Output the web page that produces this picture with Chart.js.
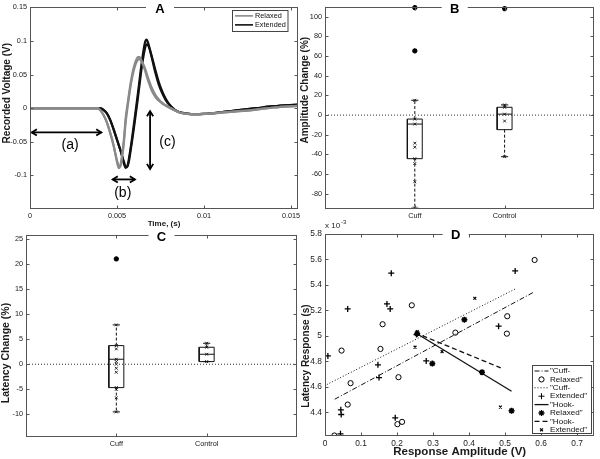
<!DOCTYPE html>
<html><head><meta charset="utf-8">
<script src="https://cdn.jsdelivr.net/npm/chart.js@4.4.1/dist/chart.umd.min.js"></script>
<style>
html,body{margin:0;padding:0;background:#fff;}
body{width:600px;height:459px;position:relative;overflow:hidden;}
canvas{position:absolute;left:0;top:0;}
</style></head>
<body>
<canvas id="cA" width="600" height="459"></canvas>
<canvas id="cB" width="600" height="459"></canvas>
<canvas id="cC" width="600" height="459"></canvas>
<canvas id="cD" width="600" height="459"></canvas>
<script>
// ================= DATA =================
// Panel A : recorded waveforms
const timeA = [0, 0.0039, 0.0040, 0.0041, 0.0042, 0.0044, 0.0046, 0.0048, 0.0050, 0.0051, 0.0052, 0.0053, 0.0054, 0.0055, 0.0056, 0.0058, 0.0060, 0.0062, 0.0063, 0.0064, 0.0066, 0.0067, 0.0068, 0.0070, 0.0072, 0.0074, 0.0076, 0.0078, 0.0080, 0.0083, 0.0086, 0.0090, 0.0095, 0.0100, 0.0110, 0.0120, 0.0130, 0.0140, 0.0154];
const relaxedTrace1 = [0, 0, -0.002, -0.005, -0.009, -0.020, -0.036, -0.055, -0.080, -0.089, -0.084, -0.068, -0.045, -0.014, 0.005, 0.040, 0.064, 0.076, 0.076, 0.071, 0.057, 0.048, 0.040, 0.026, 0.017, 0.011, 0.007, 0.004, 0.001, -0.003, -0.0065, -0.0085, -0.009, -0.0085, -0.0065, -0.0045, -0.002, 0.001, 0.0035];
const relaxedTrace2 = [0, 0, -0.002, -0.005, -0.009, -0.020, -0.036, -0.055, -0.078, -0.086, -0.087, -0.072, -0.050, -0.020, 0.000, 0.036, 0.060, 0.072, 0.073, 0.070, 0.060, 0.052, 0.044, 0.030, 0.020, 0.013, 0.008, 0.004, 0.001, -0.003, -0.0065, -0.0085, -0.009, -0.0085, -0.0065, -0.0045, -0.002, 0.001, 0.0035];
const extendedTrace1 = [0, 0, 0, -0.0005, -0.002, -0.007, -0.017, -0.031, -0.047, -0.055, -0.063, -0.072, -0.083, -0.089, -0.086, -0.056, -0.018, 0.022, 0.043, 0.064, 0.097, 0.102, 0.096, 0.075, 0.053, 0.035, 0.022, 0.012, 0.005, -0.002, -0.006, -0.008, -0.009, -0.0085, -0.006, -0.003, 0.000, 0.003, 0.0055];
const extendedTrace2 = [0, 0, 0, -0.0005, -0.002, -0.007, -0.017, -0.031, -0.047, -0.055, -0.063, -0.072, -0.080, -0.087, -0.087, -0.060, -0.024, 0.015, 0.036, 0.057, 0.088, 0.095, 0.093, 0.077, 0.057, 0.039, 0.025, 0.014, 0.006, -0.002, -0.006, -0.008, -0.009, -0.0085, -0.006, -0.003, 0.000, 0.003, 0.0055];
const seriesNamesA = ['Relaxed', 'Extended'];
const timeTicks = [0, 0.005, 0.01, 0.015];
const voltageTicks = [-0.1, -0.05, 0, 0.05, 0.1, 0.15];
// annotation arrows of panel A (data space: [t1, v1, t2, v2]) and labels
const arrowLabels = ['(a)', '(b)', '(c)'];
const arrowSpans = [[0.0001, -0.036, 0.0041, -0.036], [0.00475, -0.106, 0.00603, -0.106], [0.0069, -0.0045, 0.0069, -0.0905]];
const arrowLabelAt = [[0.0023, -0.055], [0.00533, -0.126], [0.0079, -0.05]];

// Panels B & C : box plots
const groups = ['Cuff', 'Control'];
const ampQ1 = [-44.3, -14.8];
const ampMedian = [-9.1, 1.0];
const ampQ3 = [-4.0, 8.0];
const ampLowWhisker = [-94.6, -42.3];
const ampHighWhisker = [15.1, 10.4];
const ampPointsCuff = [15.1, -4.0, -9.1, -28.5, -32.6, -44.3, -49.3, -67.8, -94.6];
const ampPointsControl = [10.4, 8.0, 1.0, -6.0, -42.3];
const ampOutliersCuff = [109.4, 65.4];
const ampOutliersControl = [108.4];
const ampTicks = [-80, -60, -40, -20, 0, 20, 40, 60, 80, 100];

const latQ1 = [-4.67, 0.53];
const latMedian = [1.0, 2.0];
const latQ3 = [3.73, 3.4];
const latLowWhisker = [-9.53, 0.53];
const latHighWhisker = [7.87, 4.2];
const latPointsCuff = [7.87, 3.73, 3.07, 1.0, 0.53, 0.0, -0.8, -1.6, -4.67, -5.0, -6.7, -9.53];
const latPointsControl = [4.2, 3.4, 2.0, 0.53];
const latOutliersCuff = [21.07];
const latOutliersControl = [];
const latTicks = [-10, -5, 0, 5, 10, 15, 20, 25];

// Panel D : latency (x10^-3 s) vs amplitude (V)
const cuffRelaxedAmp = [0.582, 0.241, 0.160, 0.362, 0.506, 0.505, 0.046, 0.154, 0.071, 0.204, 0.063, 0.201, 0.214, 0.026];
const cuffRelaxedLat = [5.596, 5.240, 5.091, 5.025, 5.154, 5.017, 4.884, 4.897, 4.628, 4.675, 4.460, 4.306, 4.324, 4.217];
const cuffExtendedAmp = [0.184, 0.063, 0.172, 0.181, 0.528, 0.482, 0.008, 0.147, 0.150, 0.044, 0.045, 0.195, 0.043, 0.254, 0.281];
const cuffExtendedLat = [5.492, 5.211, 5.251, 5.211, 5.510, 5.076, 4.842, 4.772, 4.672, 4.419, 4.382, 4.356, 4.230, 5.010, 4.803];
const hookRelaxedAmp = [0.387, 0.298, 0.436, 0.518, 0.256];
const hookRelaxedLat = [5.127, 4.782, 4.714, 4.411, 5.017];
const hookExtendedAmp = [0.416, 0.250, 0.256, 0.325, 0.487];
const hookExtendedLat = [5.295, 4.911, 5.033, 4.876, 4.440];
const fitCuffRelaxedAmp = [0.027, 0.579];
const fitCuffRelaxedLat = [4.502, 5.342];
const fitCuffExtendedAmp = [0.005, 0.528];
const fitCuffExtendedLat = [4.617, 5.368];
const fitHookRelaxedAmp = [0.252, 0.518];
const fitHookRelaxedLat = [5.022, 4.565];
const fitHookExtendedAmp = [0.250, 0.488];
const fitHookExtendedLat = [5.025, 4.748];
const legendLinesD = [['"Cuff-', 'Relaxed"'], ['"Cuff-', 'Extended"'], ['"Hook-', 'Relaxed"'], ['"Hook-', 'Extended"']];
const amplitudeTicks = [0, 0.1, 0.2, 0.3, 0.4, 0.5, 0.6, 0.7];
const latencyTicks = [4.4, 4.6, 4.8, 5.0, 5.2, 5.4, 5.6, 5.8];

// ================= STYLE / HELPERS =================
const FONT = "'Liberation Sans', Arial, Helvetica, sans-serif";
Chart.defaults.font.family = FONT;
Chart.defaults.color = '#1a1a1a';
Chart.defaults.animation = false;
const FRAME = '#555';
const GRAY = '#8a8a8a';
const INK = '#111';

const fmt = v => String(parseFloat(Number(v).toPrecision(6)));
const toXY = (xs, ys) => xs.map((x, i) => ({x: x, y: ys[i]}));
const setTicks = vals => s => { s.ticks = vals.map(v => ({value: v})); };
const fixW = w => s => { s.width = w; };
const fixH = h => s => { s.height = h; };

function axis(min, max, ticks, fitFn, tickSize, title, titleSize, tickFmt) {
  return {
    type: 'linear', min: min, max: max, offset: false,
    afterBuildTicks: setTicks(ticks), afterFit: fitFn,
    grid: {display: false, drawTicks: false}, border: {display: false},
    ticks: {padding: 3, autoSkip: false, maxRotation: 0, font: {size: tickSize}, callback: tickFmt || fmt},
    title: {display: !!title, text: title || '', padding: 0, font: {size: titleSize, weight: 'bold'}}
  };
}

// frame + inward ticks + panel letter + y title
const decor = {
  id: 'decor',
  afterDraw(chart, args, o) {
    const {ctx, chartArea: a, scales} = chart;
    ctx.save();
    ctx.strokeStyle = FRAME; ctx.lineWidth = 1;
    const L = Math.round(a.left) + 0.5, T = Math.round(a.top) + 0.5, R = Math.round(a.right) - 0.5, B = Math.round(a.bottom) - 0.5;
    ctx.strokeRect(L, T, R - L, B - T);
    const tl = 3;
    ctx.beginPath();
    scales.x.ticks.forEach(t => {
      const px = Math.round(scales.x.getPixelForValue(t.value)) + 0.5;
      ctx.moveTo(px, B); ctx.lineTo(px, B - tl); ctx.moveTo(px, T); ctx.lineTo(px, T + tl);
    });
    scales.y.ticks.forEach(t => {
      const py = Math.round(scales.y.getPixelForValue(t.value)) + 0.5;
      ctx.moveTo(L, py); ctx.lineTo(L + tl, py); ctx.moveTo(R, py); ctx.lineTo(R - tl, py);
    });
    ctx.stroke();
    if (o && o.letter) {
      const cx = (a.left + a.right) / 2 + (o.dx || 0);
      ctx.fillStyle = '#fff';
      ctx.fillRect(cx - o.gap / 2, T - 3, o.gap, 6);
      ctx.fillStyle = '#000';
      ctx.font = 'bold 13px ' + FONT;
      ctx.textAlign = 'center'; ctx.textBaseline = 'middle';
      ctx.fillText(o.letter, cx, T + (o.dy || 2));
    }
    if (o && o.yTitle) {
      ctx.save();
      ctx.translate(a.left - o.yTitleDx, (a.top + a.bottom) / 2 + o.yTitleDy);
      ctx.rotate(-Math.PI / 2);
      ctx.fillStyle = '#1a1a1a';
      ctx.font = 'bold ' + o.yTitleSize + 'px ' + FONT;
      ctx.textAlign = 'center'; ctx.textBaseline = 'middle';
      ctx.fillText(o.yTitle, 0, 0);
      ctx.restore();
    }
    ctx.restore();
  }
};
Chart.register(decor);

function basePlugins(letter, gap, dx, dy, yTitle, yTitleDx, yTitleDy, yTitleSize) {
  return {legend: {display: false}, tooltip: {enabled: false},
    decor: {letter: letter, gap: gap, dx: dx, dy: dy, yTitle: yTitle, yTitleDx: yTitleDx, yTitleDy: yTitleDy, yTitleSize: yTitleSize}};
}

// ================= PANEL A =================
const legendA = {
  id: 'legendA',
  afterDraw(chart) {
    const {ctx, chartArea: a} = chart;
    const x0 = a.right - 66.5, y0 = a.top + 2.5, w = 55.5, h = 21;
    ctx.save();
    ctx.fillStyle = '#fff'; ctx.fillRect(x0, y0, w, h);
    ctx.strokeStyle = '#444'; ctx.lineWidth = 1; ctx.strokeRect(Math.round(x0) + 0.5, Math.round(y0) + 0.5, w, h);
    ctx.font = '7.3px ' + FONT; ctx.textBaseline = 'middle'; ctx.fillStyle = '#111';
    const shown = [0, 2];
    shown.forEach((di, i) => {
      const ds = chart.data.datasets[di];
      const y = y0 + 6 + i * 9;
      ctx.strokeStyle = ds.borderColor; ctx.lineWidth = 1.6;
      ctx.beginPath(); ctx.moveTo(x0 + 3.5, y); ctx.lineTo(x0 + 21.5, y); ctx.stroke();
      ctx.fillText(ds.label, x0 + 23.5, y);
    });
    ctx.restore();
  }
};
const arrowsA = {
  id: 'arrowsA',
  afterDatasetsDraw(chart) {
    const {ctx, scales: {x, y}} = chart;
    ctx.save();
    ctx.strokeStyle = '#000'; ctx.fillStyle = '#000'; ctx.lineWidth = 1.8;
    const head = (px, py, ang) => {
      ctx.beginPath();
      ctx.moveTo(px + 6 * Math.cos(ang + 0.55), py + 6 * Math.sin(ang + 0.55));
      ctx.lineTo(px, py);
      ctx.lineTo(px + 6 * Math.cos(ang - 0.55), py + 6 * Math.sin(ang - 0.55));
      ctx.stroke();
    };
    arrowSpans.forEach(s => {
      const x1 = x.getPixelForValue(s[0]), y1 = y.getPixelForValue(s[1]);
      const x2 = x.getPixelForValue(s[2]), y2 = y.getPixelForValue(s[3]);
      ctx.beginPath(); ctx.moveTo(x1, y1); ctx.lineTo(x2, y2); ctx.stroke();
      const ang = Math.atan2(y2 - y1, x2 - x1);
      head(x1, y1, ang); head(x2, y2, ang + Math.PI);
    });
    ctx.font = '14px ' + FONT; ctx.textAlign = 'center'; ctx.textBaseline = 'middle';
    arrowLabels.forEach((t, i) => {
      ctx.fillText(t, x.getPixelForValue(arrowLabelAt[i][0]), y.getPixelForValue(arrowLabelAt[i][1]));
    });
    ctx.restore();
  }
};
const lineDS = (label, ys, color) => ({
  label: label, data: toXY(timeA, ys), borderColor: color, backgroundColor: color,
  borderWidth: 2.2, pointRadius: 0, cubicInterpolationMode: 'monotone', fill: false
});
new Chart(document.getElementById('cA'), {
  type: 'line',
  data: {datasets: [
    lineDS(seriesNamesA[0], relaxedTrace1, GRAY),
    lineDS(seriesNamesA[0], relaxedTrace2, GRAY),
    lineDS(seriesNamesA[1], extendedTrace1, INK),
    lineDS(seriesNamesA[1], extendedTrace2, INK)
  ]},
  options: {
    responsive: false, animation: false, events: [],
    layout: {padding: {left: 2, top: 6, right: 302, bottom: 230}},
    plugins: basePlugins('A', 28, -4, 2, 'Recorded Voltage (V)', 23, -15, 10),
    scales: {
      x: axis(0, 0.0154, timeTicks, fixH(20), 7.3, 'Time, (s)', 8),
      y: axis(-0.15, 0.15, voltageTicks, fixW(28), 7.3, '', 10)
    }
  },
  plugins: [arrowsA, legendA]
});

// ================= BOX PLOT BUILDER =================
function boxDatasets(q1, med, q3, lo, hi, pointsByGroup, outliersByGroup, xMax) {
  const hw = 0.083, cw = 0.04;
  const gap = {x: 0, y: null};
  const box = [], medians = [], whiskers = [], caps = [], pts = [], outs = [];
  groups.forEach((g, i) => {
    const c = i + 1;
    box.push({x: c - hw, y: q1[i]}, {x: c + hw, y: q1[i]}, {x: c + hw, y: q3[i]}, {x: c - hw, y: q3[i]}, {x: c - hw, y: q1[i]}, gap);
    medians.push({x: c - hw, y: med[i]}, {x: c + hw, y: med[i]}, gap);
    whiskers.push({x: c, y: q3[i]}, {x: c, y: hi[i]}, gap, {x: c, y: q1[i]}, {x: c, y: lo[i]}, gap);
    caps.push({x: c - cw, y: hi[i]}, {x: c + cw, y: hi[i]}, gap, {x: c - cw, y: lo[i]}, {x: c + cw, y: lo[i]}, gap);
    pointsByGroup[i].forEach(v => pts.push({x: c, y: v}));
    outliersByGroup[i].forEach(v => outs.push({x: c, y: v}));
  });
  const seg = (data, dash, width) => ({data: data, borderColor: INK, borderWidth: width, borderDash: dash, pointRadius: 0, spanGaps: false, tension: 0, fill: false});
  return [
    {data: [{x: 0, y: 0}, {x: xMax, y: 0}], borderColor: '#333', borderWidth: 1, borderDash: [1, 2], pointRadius: 0, fill: false},
    seg(whiskers, [3, 2], 1),
    seg(caps, [], 1),
    seg(box, [], 1),
    seg(medians, [], 1),
    {data: pts, showLine: false, pointStyle: 'crossRot', pointRadius: 2, borderColor: '#222', borderWidth: 1},
    {data: outs, showLine: false, pointStyle: 'star', pointRadius: 2.6, borderColor: '#000', borderWidth: 1.6, clip: false}
  ];
}
const groupTick = v => {
  const i = Math.round(v) - 1;
  return groups[i] !== undefined ? groups[i] : '';
};

// ================= PANEL B =================
new Chart(document.getElementById('cB'), {
  type: 'line',
  data: {datasets: boxDatasets(ampQ1, ampMedian, ampQ3, ampLowWhisker, ampHighWhisker,
    [ampPointsCuff, ampPointsControl], [ampOutliersCuff, ampOutliersControl], 3)},
  options: {
    responsive: false, animation: false, events: [],
    layout: {padding: {left: 300, top: 6, right: 2, bottom: 230}},
    plugins: basePlugins('B', 26, -5, 2, 'Amplitude Change (%)', 20, -18, 10),
    scales: {
      x: axis(0, 3, [1, 2], fixH(20), 7.3, '', 8, groupTick),
      y: axis(-95.5, 109.6, ampTicks, fixW(25), 7.3, '', 10)
    }
  }
});

// ================= PANEL C =================
new Chart(document.getElementById('cC'), {
  type: 'line',
  data: {datasets: boxDatasets(latQ1, latMedian, latQ3, latLowWhisker, latHighWhisker,
    [latPointsCuff, latPointsControl], [latOutliersCuff, latOutliersControl], 3)},
  options: {
    responsive: false, animation: false, events: [],
    layout: {padding: {left: 2, top: 235, right: 303, bottom: 2}},
    plugins: basePlugins('C', 26, 0, 2, 'Latency Change (%)', 19.5, 17, 10.5),
    scales: {
      x: axis(0, 3, [1, 2], fixH(20), 7.3, '', 8, groupTick),
      y: axis(-14.55, 25.85, latTicks, fixW(24), 7.3, '', 10)
    }
  }
});

// ================= PANEL D =================
const legendD = {
  id: 'legendD',
  afterDraw(chart) {
    const {ctx, chartArea: a} = chart;
    const x0 = Math.round(a.right) - 61.5, y0 = Math.round(a.bottom) - 70.5, w = 59, h = 68;
    ctx.save();
    ctx.fillStyle = '#fff'; ctx.fillRect(x0, y0, w, h);
    ctx.strokeStyle = '#444'; ctx.lineWidth = 1; ctx.strokeRect(x0, y0, w, h);
    ctx.font = '8.1px ' + FONT; ctx.textBaseline = 'middle';
    const fits = [5, 6, 7, 8];
    const marks = [0, 1, 2, 3];
    legendLinesD.forEach((pair, i) => {
      const yl = y0 + 5.5 + i * 16.8, ym = yl + 8.4;
      const fd = chart.data.datasets[fits[i]];
      ctx.strokeStyle = fd.borderColor; ctx.lineWidth = fd.borderWidth;
      ctx.setLineDash(fd.borderDash || []);
      ctx.beginPath(); ctx.moveTo(x0 + 2, yl); ctx.lineTo(x0 + 16, yl); ctx.stroke();
      ctx.setLineDash([]);
      const md = chart.data.datasets[marks[i]];
      ctx.strokeStyle = '#000'; ctx.fillStyle = 'rgba(0,0,0,0)';
      Chart.helpers.drawPoint(ctx, {pointStyle: md.pointStyle, radius: md.pointRadius, borderWidth: md.borderWidth, rotation: 0}, x0 + 9, ym);
      ctx.fillStyle = '#111';
      ctx.fillText(pair[0], x0 + 17.5, yl);
      ctx.fillText(pair[1], x0 + 17.5, ym);
    });
    ctx.restore();
  }
};
const expD = {
  id: 'expD',
  afterDraw(chart) {
    const {ctx, chartArea: a} = chart;
    ctx.save(); ctx.fillStyle = '#222'; ctx.textBaseline = 'alphabetic';
    ctx.font = '8px ' + FONT; ctx.fillText('x 10', a.left, a.top - 6);
    ctx.font = '6px ' + FONT; ctx.fillText('-3', a.left + 16, a.top - 10);
    ctx.restore();
  }
};
const markDS = (xs, ys, style, r, bw) => ({data: toXY(xs, ys), showLine: false, pointStyle: style, pointRadius: r,
  borderColor: '#000', backgroundColor: 'rgba(0,0,0,0)', borderWidth: bw});
const fitDS = (xs, ys, dash, w) => ({data: toXY(xs, ys), borderColor: '#111', borderWidth: w, borderDash: dash, pointRadius: 0, fill: false, tension: 0});
new Chart(document.getElementById('cD'), {
  type: 'line',
  data: {datasets: [
    markDS(cuffRelaxedAmp, cuffRelaxedLat, 'circle', 2.6, 1),
    markDS(cuffExtendedAmp, cuffExtendedLat, 'cross', 3, 1.3),
    markDS(hookRelaxedAmp, hookRelaxedLat, 'star', 3, 1.6),
    markDS(hookExtendedAmp, hookExtendedLat, 'crossRot', 2, 1.2),
    {data: [], pointRadius: 0},
    fitDS(fitCuffRelaxedAmp, fitCuffRelaxedLat, [5, 2, 1, 2], 1),
    fitDS(fitCuffExtendedAmp, fitCuffExtendedLat, [1, 2], 1),
    fitDS(fitHookRelaxedAmp, fitHookRelaxedLat, [], 1.3),
    fitDS(fitHookExtendedAmp, fitHookExtendedLat, [5, 3], 1.3)
  ]},
  options: {
    responsive: false, animation: false, events: [],
    layout: {padding: {left: 300, top: 234, right: 2, bottom: 0}},
    plugins: basePlugins('D', 26, -4, 1, 'Latency Response (s)', 19, 21, 10),
    scales: {
      x: axis(0, 0.748, amplitudeTicks, fixH(23), 8.4, 'Response Amplitude (V)', 11.5),
      y: axis(4.213, 5.8, latencyTicks, fixW(25), 8.4, '', 10)
    }
  },
  plugins: [legendD, expD]
});
</script>
</body></html>
